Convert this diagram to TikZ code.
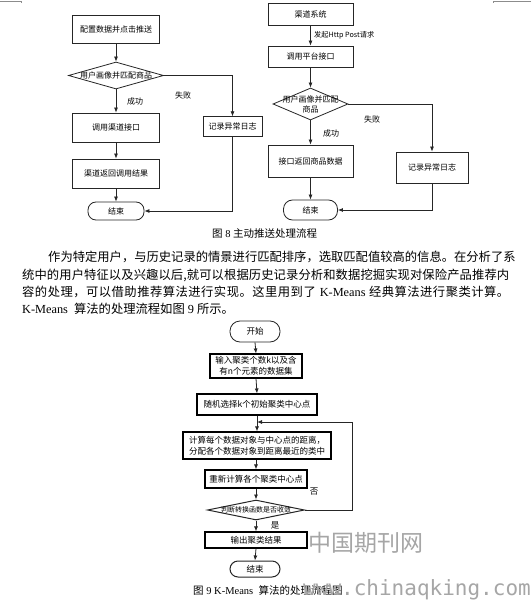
\documentclass[tikz,border=0pt]{standalone}
\usepackage{fontspec}
\setmainfont{Liberation Serif}
\newfontfamily\cjk{Noto Sans CJK SC}
\newfontfamily\wmmono{DejaVu Sans Mono}
\usetikzlibrary{shapes.geometric,arrows.meta}
\ExplSyntaxOn
\cs_new:Npn \my_spread_item:n #1 { #1 \hskip 0pt plus 1fil }
\NewDocumentCommand \spreadtext { m } { \tl_map_function:nN {#1} \my_spread_item:n }
\ExplSyntaxOff
\newcommand\gap{\hskip 3pt plus 1fil\relax}
\begin{document}
\begin{tikzpicture}[x=1pt,y=-1pt,
  fbox/.style={draw=black!85, line width=0.8pt, inner sep=0pt, font=\cjk\fontsize{8}{10}\selectfont, align=center},
  kbox/.style={draw=black, line width=1.1pt, inner sep=0pt, font=\cjk\fontsize{8.5}{11}\selectfont, align=center},
  term/.style={draw=black!85, line width=0.8pt, inner sep=0pt, rounded corners=8pt, font=\cjk\fontsize{8}{10}\selectfont},
  dia/.style={draw=black!85, line width=0.8pt, shape=diamond, inner sep=0pt},
  lab/.style={font=\cjk\fontsize{8}{10}\selectfont, inner sep=0pt, align=center},
  arr/.style={-{Latex[length=5pt,width=4pt]}, line width=0.8pt, draw=black!85},
  paraline/.style={anchor=base west, inner sep=0pt, font=\fontsize{12.3}{14}\selectfont},
  figcap/.style={anchor=west, inner sep=0pt, font=\fontsize{10.5}{12}\selectfont},
  cropmark/.style={draw=black!45, line width=0.6pt}
]
\useasboundingbox (0,0) rectangle (531,601);
\fill[white] (0,0) rectangle (531,601);

% crop marks
\draw[cropmark] (0,1) -- (21,1) -- (21,3);
\draw[cropmark] (531,1) -- (493,1) -- (493,3);

% ---------- figure 8, left ----------
\node[fbox, minimum width=87pt, minimum height=28pt] (A1) at (116,29) {配置数据并点击推送};
\node[dia, minimum width=95pt, minimum height=27pt] (D1) at (116,75.5) {};
\node[lab] (D1t) at (116,75.5) {用户画像并匹配商品};
\node[fbox, minimum width=87pt, minimum height=29pt] (A2) at (116,127.5) {调用渠道接口};
\node[fbox, minimum width=87pt, minimum height=29pt] (A3) at (116,173.5) {渠道返回调用结果};
\node[term, minimum width=56pt, minimum height=18pt] (E1) at (116,211) {结束};
\node[fbox, minimum width=59pt, minimum height=19.5pt] (L1) at (232.5,126.5) {记录异常日志};
\node[lab] (ok1) at (135,101) {成功};
\node[lab] (fail1) at (183,95) {失败};

\draw[arr] (A1.south) -- (D1.north);
\draw[arr] (D1.south) -- (A2.north);
\draw[arr] (A2.south) -- (A3.north);
\draw[arr] (A3.south) -- (E1.north);
\draw[arr] (D1.east) -| (L1.north);
\draw[arr] (L1.south) |- (E1.east);

% ---------- figure 8, right ----------
\node[fbox, minimum width=85pt, minimum height=22pt] (B1) at (310.5,14) {渠道系统};
\node[fbox, minimum width=85pt, minimum height=21pt] (B2) at (310.5,56.5) {调用平台接口};
\node[dia, minimum width=75pt, minimum height=32pt] (D2) at (310.5,104) {};
\node[lab] (D2t) at (310.5,104) {用户画像并匹配\\商品};
\node[fbox, minimum width=85pt, minimum height=32pt] (B3) at (310.5,161) {接口返回商品数据};
\node[term, minimum width=54pt, minimum height=20pt, rounded corners=9pt] (E2) at (310.5,210) {结束};
\node[fbox, minimum width=72pt, minimum height=31pt] (B4) at (432,167.5) {记录异常日志};
\node[lab, anchor=west, font=\cjk\fontsize{7.2}{9}\selectfont] (req) at (314,35) {发起Http Post请求};
\node[lab] (ok2) at (331,133) {成功};
\node[lab] (fail2) at (372,119) {失败};

\draw[arr] (B1.south) -- (B2.north);
\draw[arr] (B2.south) -- (D2.north);
\draw[arr] (D2.south) -- (B3.north);
\draw[arr] (B3.south) -- (E2.north);
\draw[arr] (D2.east) -| (B4.north);
\draw[arr] (B4.south) |- (E2.east);

% caption 8
\node[figcap] (cap8) at (212,234) {{\cjk 图} 8 {\cjk 主动推送处理流程}};

% ---------- paragraph ----------
\node[paraline] (p1) at (48,261) {\makebox[462pt][s]{\cjk\spreadtext{作为特定用户，与历史记录的情景进行匹配排序，选取匹配值较高的信息。在分析了系}\unskip}};
\node[paraline] (p2) at (22,279) {\makebox[487pt][s]{\cjk\spreadtext{统中的用户特征以及兴趣以后,就可以根据历史记录分析和数据挖掘实现对保险产品推荐内}\unskip}};
\node[paraline] (p3) at (22,296.5) {\makebox[487pt][s]{{\cjk\spreadtext{容的处理，可以借助推荐算法进行实现。这里用到了}}\gap K-Means\gap{\cjk\spreadtext{经典算法进行聚类计算。}\unskip}}};
\node[paraline] (p4) at (22,313) {K-Means\ \ {\cjk 算法的处理流程如图} 9 {\cjk 所示。}};

% ---------- figure 9 ----------
\node[term, minimum width=50pt, minimum height=21pt, rounded corners=10pt, font=\cjk\fontsize{8.5}{11}\selectfont] (S) at (255,331.5) {开始};
\node[kbox, minimum width=92pt, minimum height=24pt] (C1) at (256,366) {输入聚类个数k以及含\\有n个元素的数据集};
\node[kbox, minimum width=120pt, minimum height=21pt] (C2) at (257,404.5) {随机选择k个初始聚类中心点};
\coordinate (J) at (257,422);
\node[kbox, minimum width=148pt, minimum height=27pt] (C3) at (257,445.5) {计算每个数据对象与中心点的距离，\\分配各个数据对象到距离最近的类中};
\node[kbox, minimum width=102pt, minimum height=18pt] (C4) at (256,479) {重新计算各个聚类中心点};
\node[dia, line width=1pt, minimum width=97pt, minimum height=20pt] (D3) at (256,510) {};
\node[lab, font=\cjk\fontsize{7}{9}\selectfont] (D3t) at (256,510) {判断转换函数是否收敛};
\node[kbox, minimum width=102pt, minimum height=16pt] (C5) at (256,540) {输出聚类结果};
\node[term, line width=1pt, minimum width=50pt, minimum height=16pt, font=\cjk\fontsize{8.5}{11}\selectfont] (E3) at (255,569) {结束};
\coordinate (LP) at (352,422);
\node[lab, font=\cjk\fontsize{8.5}{11}\selectfont] (no) at (314,492) {否};
\node[lab, font=\cjk\fontsize{8.5}{11}\selectfont] (yes) at (275,525) {是};

\draw[arr] (S.south) -- (C1.north);
\draw[arr] (C1.south) -- (C2.north);
\draw[arr] (C2.south) -- (C3.north -| C2.south);
\draw[arr] (C3.south -| C4.north) -- (C4.north);
\draw[arr] (C4.south) -- (D3.north);
\draw[arr] (D3.south) -- (C5.north);
\draw[arr] (C5.south) -- (E3.north);
\draw[arr] (D3.east) -| (LP) -- (J);

% caption 9
\node[figcap] (cap9) at (193,590) {{\cjk 图} 9 K-Means\ \ {\cjk 算法的处理流程图}};

% watermark
\node[inner sep=0pt, text=black!35, font=\cjk\fontsize{23}{25}\selectfont] (wm1) at (366,543) {中国期刊网};
\node[anchor=base east, inner sep=0pt, text=black!35, font=\wmmono\fontsize{21}{23}\selectfont] (wm2) at (531,595) {www.chinaqking.com};
\end{tikzpicture}
\end{document}
